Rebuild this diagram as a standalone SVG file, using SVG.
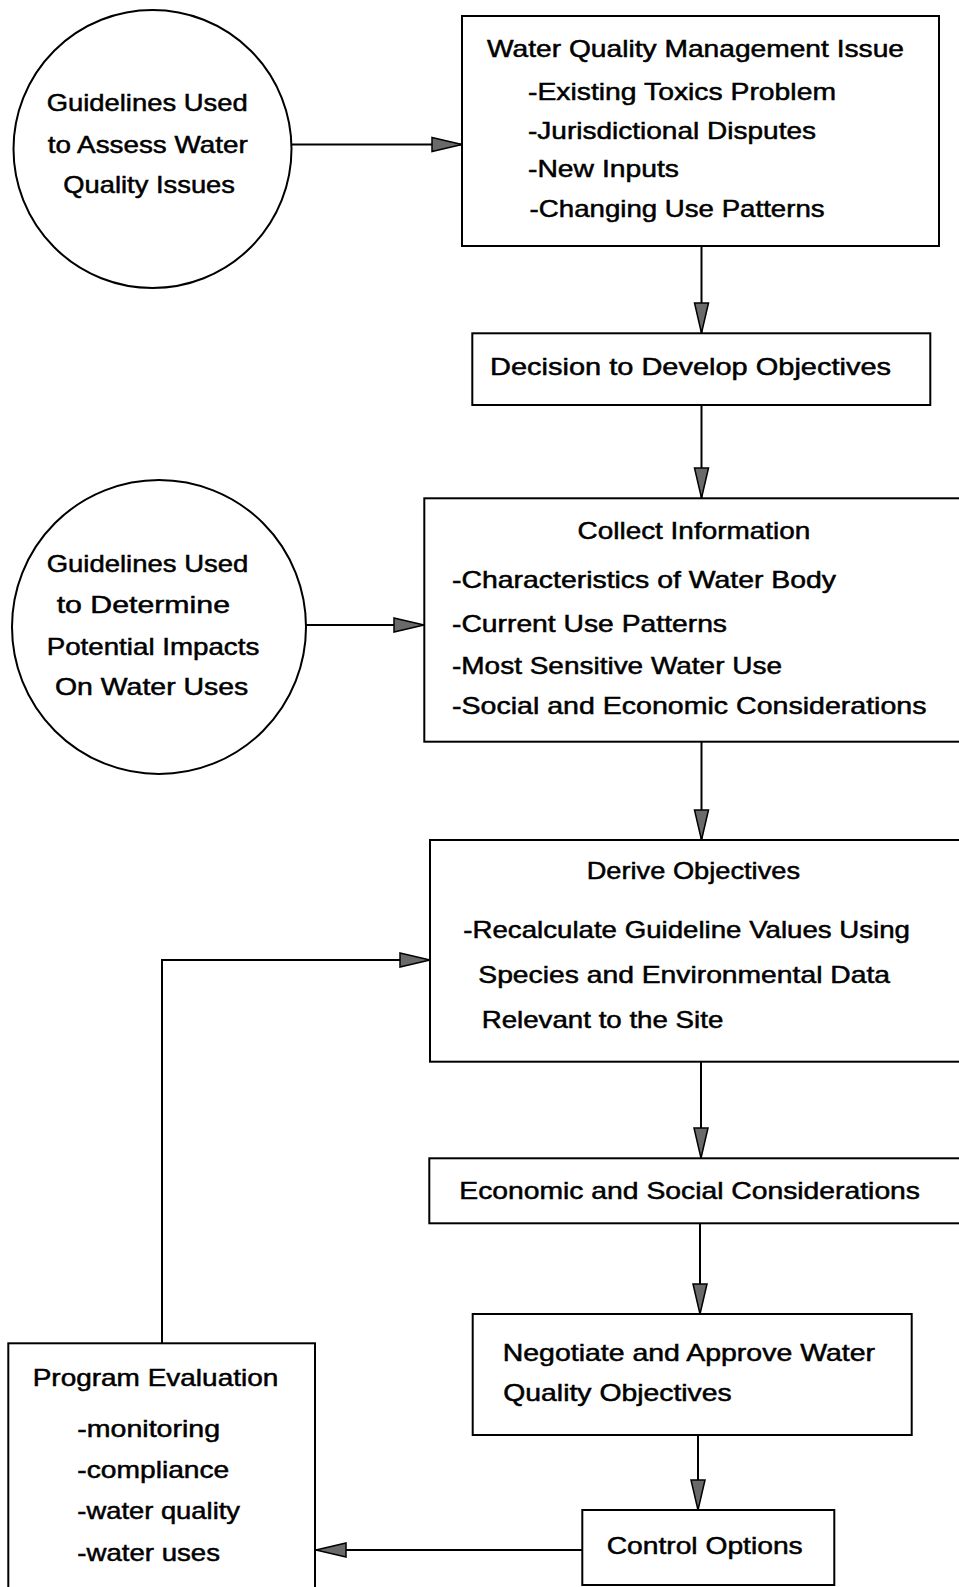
<svg xmlns="http://www.w3.org/2000/svg" width="959" height="1587" viewBox="0 0 959 1587">
<style>
  .shape { fill: #fff; stroke: #000; stroke-width: 2; }
  .conn { fill: none; stroke: #000; stroke-width: 2; }
  text { font-family: "Liberation Sans", Arial, sans-serif; font-size: 24px; fill: #000; stroke: #000; stroke-width: 0.5; }
</style>
<defs>
  <marker id="arrow" markerUnits="userSpaceOnUse" markerWidth="32" markerHeight="18" viewBox="-1 -9 32 18" refX="30" refY="0" orient="auto">
    <path d="M0,-7 L30,0 L0,7 Z" fill="#6a6a6a" stroke="#000" stroke-width="1.5"/>
  </marker>
</defs>
<rect x="0" y="0" width="959" height="1587" fill="#fff"/>

<g id="connectors">
  <path class="conn" d="M288,144.5 L462,144.5" marker-end="url(#arrow)"/>
  <path class="conn" d="M701.5,246 L701.5,333" marker-end="url(#arrow)"/>
  <path class="conn" d="M701.5,405 L701.5,498" marker-end="url(#arrow)"/>
  <path class="conn" d="M306,625 L424,625" marker-end="url(#arrow)"/>
  <path class="conn" d="M701.5,742 L701.5,840" marker-end="url(#arrow)"/>
  <path class="conn" d="M701,1062 L701,1158" marker-end="url(#arrow)"/>
  <path class="conn" d="M700,1223 L700,1314" marker-end="url(#arrow)"/>
  <path class="conn" d="M698,1435 L698,1510" marker-end="url(#arrow)"/>
  <path class="conn" d="M582,1550 L316,1550" marker-end="url(#arrow)"/>
  <path class="conn" d="M162,1343 L162,960 L430,960" marker-end="url(#arrow)"/>
</g>

<g id="guidelines-assess">
  <circle class="shape" cx="152.5" cy="149" r="139"/>
  <text x="46.7" y="110.7" textLength="201" lengthAdjust="spacingAndGlyphs">Guidelines Used</text>
  <text x="47.7" y="152.7" textLength="200" lengthAdjust="spacingAndGlyphs">to Assess Water</text>
  <text x="63.3" y="193.3" textLength="171.7" lengthAdjust="spacingAndGlyphs">Quality Issues</text>
</g>

<g id="management-issue">
  <rect class="shape" x="462" y="16" width="477" height="230"/>
  <text x="487" y="57" textLength="417" lengthAdjust="spacingAndGlyphs">Water Quality Management Issue</text>
  <text x="528" y="100" textLength="308" lengthAdjust="spacingAndGlyphs">-Existing Toxics Problem</text>
  <text x="528" y="138.5" textLength="288" lengthAdjust="spacingAndGlyphs">-Jurisdictional Disputes</text>
  <text x="528" y="177" textLength="151" lengthAdjust="spacingAndGlyphs">-New Inputs</text>
  <text x="529.6" y="216.7" textLength="295" lengthAdjust="spacingAndGlyphs">-Changing Use Patterns</text>
</g>

<g id="decision">
  <rect class="shape" x="472.3" y="333.3" width="458" height="71.7"/>
  <text x="490" y="375" textLength="401" lengthAdjust="spacingAndGlyphs">Decision to Develop Objectives</text>
</g>

<g id="guidelines-impacts">
  <circle class="shape" cx="159" cy="627" r="147"/>
  <text x="46.7" y="571.7" textLength="201.6" lengthAdjust="spacingAndGlyphs">Guidelines Used</text>
  <text x="56.7" y="613.3" textLength="173.3" lengthAdjust="spacingAndGlyphs">to Determine</text>
  <text x="46.7" y="655" textLength="212.6" lengthAdjust="spacingAndGlyphs">Potential Impacts</text>
  <text x="55" y="695" textLength="193.3" lengthAdjust="spacingAndGlyphs">On Water Uses</text>
</g>

<g id="collect-information">
  <rect class="shape" x="424.3" y="498.3" width="540" height="243.4"/>
  <text x="577.6" y="539" textLength="232.6" lengthAdjust="spacingAndGlyphs">Collect Information</text>
  <text x="452" y="588" textLength="384" lengthAdjust="spacingAndGlyphs">-Characteristics of Water Body</text>
  <text x="452" y="632" textLength="275" lengthAdjust="spacingAndGlyphs">-Current Use Patterns</text>
  <text x="452" y="674" textLength="330" lengthAdjust="spacingAndGlyphs">-Most Sensitive Water Use</text>
  <text x="452" y="714" textLength="474.5" lengthAdjust="spacingAndGlyphs">-Social and Economic Considerations</text>
</g>

<g id="derive-objectives">
  <rect class="shape" x="430" y="840" width="540" height="221.7"/>
  <text x="586.7" y="879" textLength="213.3" lengthAdjust="spacingAndGlyphs">Derive Objectives</text>
  <text x="463.3" y="937.5" textLength="446.7" lengthAdjust="spacingAndGlyphs">-Recalculate Guideline Values Using</text>
  <text x="478.3" y="983.3" textLength="411.7" lengthAdjust="spacingAndGlyphs">Species and Environmental Data</text>
  <text x="481.7" y="1028" textLength="241.6" lengthAdjust="spacingAndGlyphs">Relevant to the Site</text>
</g>

<g id="economic-social">
  <rect class="shape" x="429.3" y="1158.3" width="540" height="65"/>
  <text x="459.3" y="1199" textLength="460.7" lengthAdjust="spacingAndGlyphs">Economic and Social Considerations</text>
</g>

<g id="negotiate">
  <rect class="shape" x="472.7" y="1314" width="439" height="121"/>
  <text x="502.7" y="1360.5" textLength="372.3" lengthAdjust="spacingAndGlyphs">Negotiate and Approve Water</text>
  <text x="503.3" y="1400.7" textLength="228.4" lengthAdjust="spacingAndGlyphs">Quality Objectives</text>
</g>

<g id="control-options">
  <rect class="shape" x="582.3" y="1510" width="252" height="75"/>
  <text x="606.7" y="1554" textLength="196" lengthAdjust="spacingAndGlyphs">Control Options</text>
</g>

<g id="program-evaluation">
  <rect class="shape" x="8.3" y="1343.3" width="306.7" height="260"/>
  <text x="32.7" y="1386" textLength="245.6" lengthAdjust="spacingAndGlyphs">Program Evaluation</text>
  <text x="77.3" y="1437" textLength="142.7" lengthAdjust="spacingAndGlyphs">-monitoring</text>
  <text x="77.3" y="1478" textLength="152" lengthAdjust="spacingAndGlyphs">-compliance</text>
  <text x="77.3" y="1519" textLength="162.7" lengthAdjust="spacingAndGlyphs">-water quality</text>
  <text x="77.3" y="1561" textLength="142.7" lengthAdjust="spacingAndGlyphs">-water uses</text>
</g>
</svg>
